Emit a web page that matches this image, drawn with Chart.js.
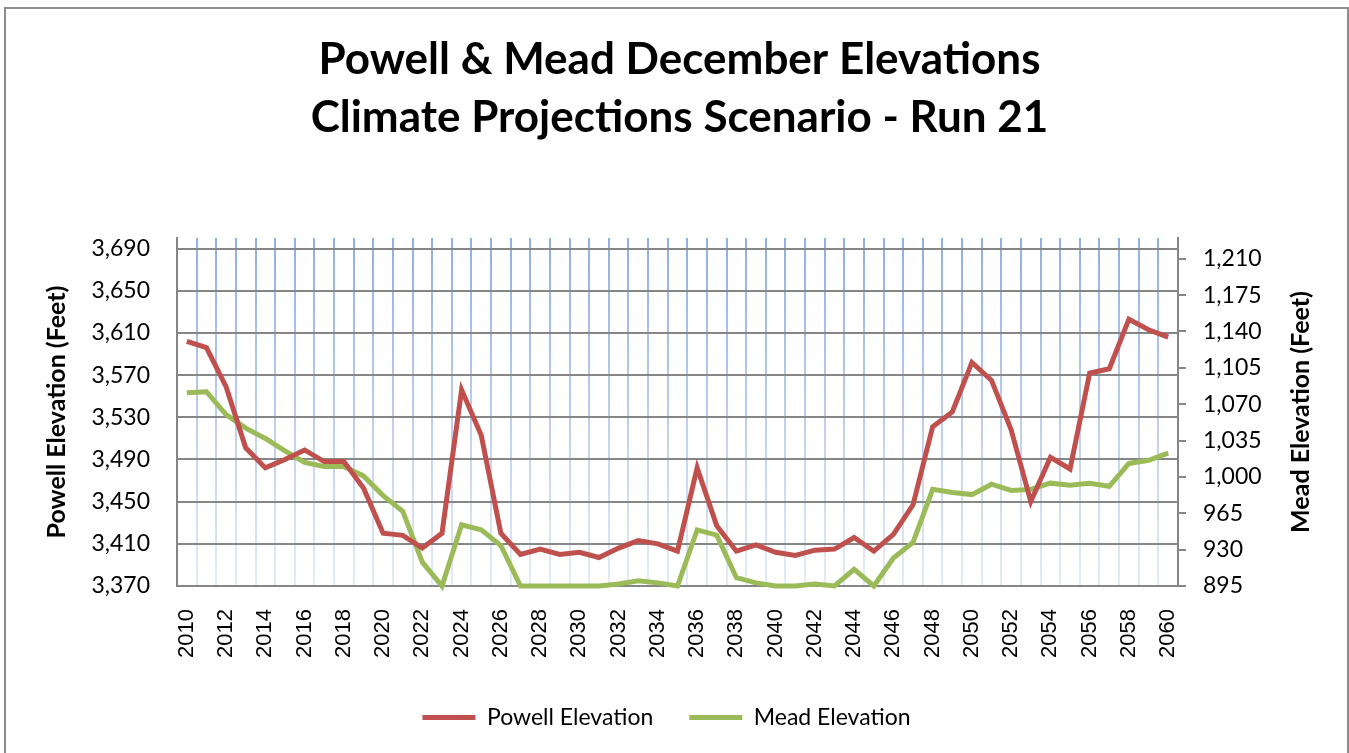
<!DOCTYPE html>
<html>
<head>
<meta charset="utf-8">
<script src="https://cdn.jsdelivr.net/npm/chart.js@4/dist/chart.umd.min.js"></script>
<style>
  html, body { margin: 0; padding: 0; background: #fff; }
  #wrap { width: 1349px; height: 753px; }
</style>
</head>
<body>
<div id="wrap"><canvas id="chart"></canvas></div>
<script>
const years = [2010, 2011, 2012, 2013, 2014, 2015, 2016, 2017, 2018, 2019,
  2020, 2021, 2022, 2023, 2024, 2025, 2026, 2027, 2028, 2029,
  2030, 2031, 2032, 2033, 2034, 2035, 2036, 2037, 2038, 2039,
  2040, 2041, 2042, 2043, 2044, 2045, 2046, 2047, 2048, 2049,
  2050, 2051, 2052, 2053, 2054, 2055, 2056, 2057, 2058, 2059, 2060];

const powellElevation = [3602, 3596, 3559, 3501, 3482, 3490, 3499, 3488, 3488, 3463,
  3420, 3418, 3406, 3420, 3556, 3513, 3420, 3400, 3405, 3400,
  3402, 3397, 3406, 3413, 3410, 3403, 3482, 3427, 3403, 3409,
  3402, 3399, 3404, 3405, 3416, 3403, 3419, 3447, 3521, 3535,
  3582, 3565, 3518, 3450, 3492, 3481, 3572, 3576, 3623, 3613, 3606];

const meadElevation = [1081, 1082, 1060, 1047, 1037, 1025, 1014, 1010, 1010, 1001,
  982, 967, 918, 895, 954, 949, 934, 895, 895, 895,
  895, 895, 897, 900, 898, 895, 949, 944, 903, 898,
  895, 895, 897, 895, 911, 895, 922, 937, 988, 985,
  983, 993, 987, 988, 994, 992, 994, 991, 1013, 1016, 1023];

const powellTicks = [3370, 3410, 3450, 3490, 3530, 3570, 3610, 3650, 3690];
const meadTicks = [895, 930, 965, 1000, 1035, 1070, 1105, 1140, 1175, 1210];

const axisGrey = '#868686';
const uiFont = 'Lato, "Open Sans", sans-serif';
const axisTitleFont = { family: uiFont, size: 25, weight: 'bold' };

// light blue vertical grid that fades towards the bottom
const blueGrid = (ctx) => {
  const area = ctx.chart.chartArea;
  if (!area) return '#a9c1e8';
  const g = ctx.chart.ctx.createLinearGradient(0, area.top, 0, area.bottom);
  g.addColorStop(0, '#8fb0e3');
  g.addColorStop(1, '#e4ecf8');
  return g;
};

// outer frame, right axis title (reads bottom-up), legend nudged left
const extras = {
  id: 'extras',
  afterLayout(chart) {
    chart.legend.left -= 13;
    chart.legend.right -= 13;
  },
  afterDraw(chart) {
    const c = chart.ctx;
    const area = chart.chartArea;
    c.save();
    c.strokeStyle = '#8c8c8c';
    c.lineWidth = 2;
    c.strokeRect(5, 8, 1343, 760);
    c.translate(1301, (area.top + area.bottom) / 2);
    c.rotate(-Math.PI / 2);
    c.fillStyle = '#000';
    c.font = 'bold 25px ' + uiFont;
    c.textAlign = 'center';
    c.textBaseline = 'middle';
    c.fillText('Mead Elevation (Feet)', 0, 0);
    c.restore();
  }
};

new Chart(document.getElementById('chart'), {
  type: 'line',
  data: {
    labels: years,
    datasets: [{
      label: 'Powell Elevation',
      data: powellElevation,
      yAxisID: 'y',
      borderColor: '#c0504d',
      backgroundColor: '#c0504d',
      borderWidth: 5,
      pointRadius: 0,
      tension: 0,
      clip: false
    }, {
      label: 'Mead Elevation',
      data: meadElevation,
      yAxisID: 'y1',
      borderColor: '#9bbb59',
      backgroundColor: '#9bbb59',
      borderWidth: 5,
      pointRadius: 0,
      tension: 0,
      clip: false
    }]
  },
  options: {
    responsive: true,
    maintainAspectRatio: false,
    animation: false,
    layout: { padding: { left: 40, right: 30, top: 0, bottom: 14 } },
    plugins: {
      title: {
        display: true,
        text: ['Powell & Mead December Elevations', 'Climate Projections Scenario - Run 21'],
        color: '#000',
        font: { family: uiFont, size: 44, weight: 'bold', lineHeight: '58px' },
        padding: { top: 31, bottom: 91 }
      },
      legend: {
        position: 'bottom',
        labels: {
          boxWidth: 53,
          boxHeight: 5,
          padding: 36,
          color: '#000',
          font: { family: uiFont, size: 23 },
          generateLabels: (chart) => chart.data.datasets.map((ds, i) => ({
            text: ds.label,
            fillStyle: ds.borderColor,
            strokeStyle: ds.borderColor,
            lineWidth: 0,
            hidden: false,
            datasetIndex: i
          }))
        }
      },
      tooltip: { enabled: false }
    },
    scales: {
      x: {
        offset: true,
        grid: { color: blueGrid, lineWidth: 2, offset: true, drawTicks: false },
        border: { color: axisGrey, width: 2 },
        ticks: {
          autoSkip: false,
          maxRotation: 90,
          minRotation: 90,
          padding: 23,
          color: '#000',
          font: { family: '"Liberation Sans", Arial, sans-serif', size: 22 },
          callback: (v, i) => (i % 2 === 0 ? String(years[i]) : '')
        },
        afterFit: (s) => { s.height = 84; }
      },
      y: {
        position: 'left',
        min: 3370,
        max: 3700,
        afterBuildTicks: (a) => { a.ticks = powellTicks.map(v => ({ value: v })); },
        grid: { color: axisGrey, lineWidth: 2, drawTicks: false },
        border: { color: axisGrey, width: 2 },
        ticks: {
          padding: 27,
          color: '#000',
          font: { family: uiFont, size: 23 },
          callback: (v) => v.toLocaleString('en-US')
        },
        title: {
          display: true,
          text: 'Powell Elevation (Feet)',
          color: '#000',
          font: axisTitleFont,
          padding: { top: 2, bottom: 0 }
        },
        afterFit: (s) => { s.width = 137; }
      },
      y1: {
        position: 'right',
        min: 895,
        max: 1230,
        afterBuildTicks: (a) => { a.ticks = meadTicks.map(v => ({ value: v })); },
        grid: { drawOnChartArea: false, drawTicks: true, tickLength: 8, color: axisGrey, lineWidth: 2 },
        border: { color: axisGrey, width: 2 },
        ticks: {
          padding: 17,
          color: '#000',
          font: { family: uiFont, size: 23 },
          callback: (v) => v.toLocaleString('en-US')
        },
        afterFit: (s) => { s.width = 141; }
      }
    }
  },
  plugins: [extras]
});
</script>
</body>
</html>
